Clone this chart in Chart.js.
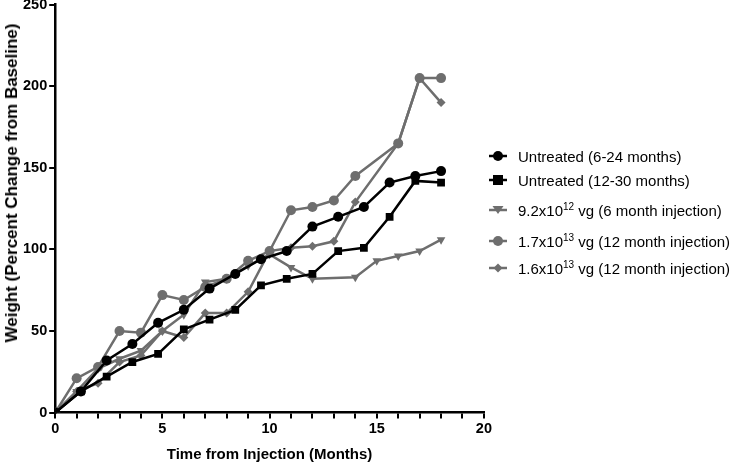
<!DOCTYPE html>
<html>
<head>
<meta charset="utf-8">
<script src="https://cdn.jsdelivr.net/npm/chart.js@4"></script>
<style>
  body { margin: 0; background: #fff; font-family: "Liberation Sans", Arial, sans-serif; overflow: hidden; }
  #wrap { position: absolute; left: 0; top: -6px; width: 494px; height: 470px; }
  #ytitle { position: absolute; left: 12px; top: 183px; transform: translate(-50%, -50%) rotate(-90deg);
    white-space: nowrap; font-weight: bold; font-size: 17px; color: #000; }
  #legend { position: absolute; left: 488px; top: 0; font-size: 15px; color: #000; }
  .row { position: absolute; left: 0; white-space: nowrap; display: flex; align-items: center; }
  .row svg { margin-right: 8px; }
  sup { font-size: 10px; vertical-align: 6px; line-height: 0; }
</style>
</head>
<body>
<div id="wrap"><canvas id="chart"></canvas></div>
<div id="ytitle">Weight (Percent Change from Baseline)</div>
<div id="legend"></div>
<script>
const GREY = '#6e6e6e';

// untreated groups share one time grid
const untreatedMonths = [0, 1.2, 2.4, 3.6, 4.8, 6, 7.2, 8.4, 9.6, 10.8, 12, 13.2, 14.4, 15.6, 16.8, 18];
const untreated6to24 = [0, 13, 32, 42, 55, 63, 76, 85, 94, 99, 114, 120, 126, 141, 145, 148];
const untreated12to30 = [0, 13, 22, 31, 36, 51, 57, 63, 78, 82, 85, 99, 101, 120, 142, 141];

const lowDoseMonths = [0, 1, 2, 3, 4, 5, 6, 7, 8, 9, 10, 11, 12, 14, 15, 16, 17, 18];
const lowDose6mo = [0, 13, 27, 33, 38, 50, 60, 80, 82, 90, 97, 89, 82, 83, 93, 96, 99, 106];

const highDoseMonths = [0, 1, 2, 3, 4, 5, 6, 7, 8, 9, 10, 11, 12, 13, 14, 16, 17, 18];
const dose17e13 = [0, 21, 28, 50, 49, 72, 69, 77, 82, 93, 99, 124, 126, 130, 145, 165, 205, 205];
const dose16e13 = [0, 13, 18, 31, 35, 50, 46, 61, 61, 74, 99, 101, 102, 105, 129, 165, 205, 190];

const yTicks = [0, 50, 100, 150, 200, 250];

function pts(xs, ys) {
  return xs.map((x, i) => ({ x: x, y: ys[i] }));
}

const series = [
  { label: 'Untreated (6-24 months)', html: 'Untreated (6-24 months)', data: pts(untreatedMonths, untreated6to24), color: '#000', style: 'circle', r: 5, rot: 0 },
  { label: 'Untreated (12-30 months)', html: 'Untreated (12-30 months)', data: pts(untreatedMonths, untreated12to30), color: '#000', style: 'rect', r: 5.5, rot: 0 },
  { label: '9.2x10^12 vg (6 month injection)', html: '9.2x10<sup>12</sup> vg (6 month injection)', data: pts(lowDoseMonths, lowDose6mo), color: GREY, style: 'triangle', r: 5, rot: 180 },
  { label: '1.7x10^13 vg (12 month injection)', html: '1.7x10<sup>13</sup> vg (12 month injection)', data: pts(highDoseMonths, dose17e13), color: GREY, style: 'circle', r: 5, rot: 0 },
  { label: '1.6x10^13 vg (12 month injection)', html: '1.6x10<sup>13</sup> vg (12 month injection)', data: pts(highDoseMonths, dose16e13), color: GREY, style: 'rectRot', r: 4.5, rot: 0 }
];

new Chart(document.getElementById('chart'), {
  type: 'line',
  data: {
    datasets: series.map(s => ({
      label: s.label,
      data: s.data,
      borderColor: s.color,
      backgroundColor: s.color,
      borderWidth: 2.5,
      pointStyle: s.style,
      pointRadius: s.r,
      pointRotation: s.rot,
      pointBorderWidth: 0,
      tension: 0
    }))
  },
  options: {
    responsive: true,
    maintainAspectRatio: false,
    animation: false,
    layout: { padding: { top: 0, right: 6, left: 21, bottom: 0 } },
    plugins: { legend: { display: false }, tooltip: { enabled: false } },
    scales: {
      x: {
        type: 'linear',
        min: 0, max: 20,
        grid: { drawOnChartArea: false, drawTicks: true, tickLength: 6, color: '#000', lineWidth: 2 },
        border: { display: true, color: '#000', width: 2.5 },
        ticks: {
          stepSize: 1, autoSkip: false, maxRotation: 0, color: '#000', padding: 2,
          font: { family: 'Liberation Sans', weight: 'bold', size: 14.5 },
          callback: v => (v % 5 === 0 ? v : '')
        },
        title: { display: true, text: 'Time from Injection (Months)', color: '#000', padding: { top: 6, bottom: 0 },
          font: { family: 'Liberation Sans', weight: 'bold', size: 15 } }
      },
      y: {
        min: 0, max: 250,
        afterBuildTicks: axis => { axis.ticks = yTicks.map(v => ({ value: v })); },
        grid: { drawOnChartArea: false, drawTicks: true, tickLength: 6, color: '#000', lineWidth: 2 },
        border: { display: true, color: '#000', width: 2.5 },
        ticks: { color: '#000', padding: 2, font: { family: 'Liberation Sans', weight: 'bold', size: 14.5 } },
        title: { display: false }
      }
    }
  }
});

// legend with superscripts as html
const legendTops = [147, 171, 201, 232, 259];
const legend = document.getElementById('legend');
series.forEach((s, i) => {
  let mark;
  if (s.style === 'circle') mark = `<circle cx="10" cy="9" r="${s.r}" fill="${s.color}"/>`;
  else if (s.style === 'rect') mark = `<rect x="5" y="4" width="10" height="10" fill="${s.color}"/>`;
  else if (s.style === 'triangle') mark = `<polygon points="4.5,5 15.5,5 10,13" fill="${s.color}"/>`;
  else mark = `<polygon points="10,4.5 14.5,9 10,13.5 5.5,9" fill="${s.color}"/>`;
  const row = document.createElement('div');
  row.className = 'row';
  row.style.top = legendTops[i] + 'px';
  row.innerHTML = `<svg width="22" height="18"><line x1="1" y1="9" x2="19" y2="9" stroke="${s.color}" stroke-width="2.5"/>${mark}</svg><span>${s.html}</span>`;
  legend.appendChild(row);
});
</script>
</body>
</html>
